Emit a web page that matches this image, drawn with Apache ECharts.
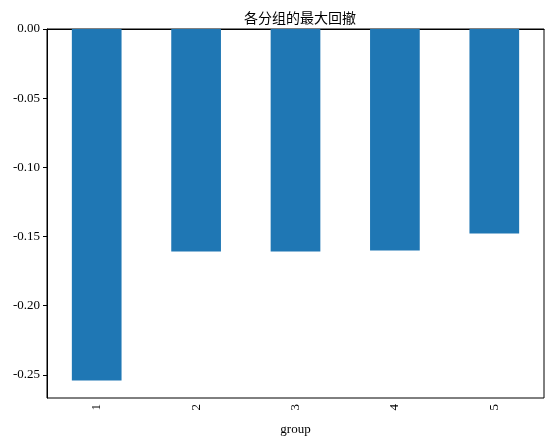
<!DOCTYPE html>
<html>
<head>
<meta charset="utf-8">
<script src="https://cdn.jsdelivr.net/npm/echarts@6/dist/echarts.min.js"></script>
<style>
    html, body { margin: 0; padding: 0; background: #fff; }
    #chart { width: 552px; height: 444px; }
</style>
</head>
<body>
<div id="chart"></div>
<script>
// 分组与最大回撤
const groups = ['1', '2', '3', '4', '5'];
const maxDrawdown = [-0.2541, -0.1608, -0.1608, -0.1601, -0.1478];
const yTicks = [-0.25, -0.20, -0.15, -0.10, -0.05, 0.00];

const serif = '"Liberation Serif", "DejaVu Serif", serif';

const chart = echarts.init(document.getElementById('chart'));
chart.setOption({
    animation: false,
    title: {
        text: '各分组的最大回撤',
        left: 295,
        textAlign: 'center',
        top: 6,
        textStyle: {
            fontFamily: '"Noto Sans CJK SC", sans-serif',
            fontSize: 14,
            fontWeight: 'normal',
            color: '#000'
        }
    },
    grid: {
        left: 47,
        right: 8,
        top: 29,
        bottom: 46,
        show: true,
        borderColor: '#000',
        borderWidth: 1
    },
    xAxis: {
        type: 'category',
        data: groups,
        name: 'group',
        nameLocation: 'middle',
        nameGap: 25,
        nameTextStyle: { fontFamily: serif, fontSize: 13, color: '#000' },
        axisLine: { lineStyle: { color: '#000' } },
        axisTick: { alignWithLabel: true, length: 4, lineStyle: { color: '#000' } },
        axisLabel: { rotate: 90, fontFamily: serif, fontSize: 13, color: '#000', margin: 6 },
        splitLine: { show: false }
    },
    yAxis: {
        type: 'value',
        min: -0.2668,
        max: 0,
        axisLine: { show: true, lineStyle: { color: '#000' } },
        axisTick: { show: true, length: 4, customValues: yTicks, lineStyle: { color: '#000' } },
        axisLabel: {
            customValues: yTicks,
            fontFamily: serif,
            fontSize: 13,
            color: '#000',
            margin: 7,
            formatter: v => v.toFixed(2)
        },
        splitLine: { show: false }
    },
    series: [{
        type: 'bar',
        data: maxDrawdown,
        barWidth: '50%',
        itemStyle: { color: '#1f77b4' }
    }]
});
</script>
</body>
</html>
